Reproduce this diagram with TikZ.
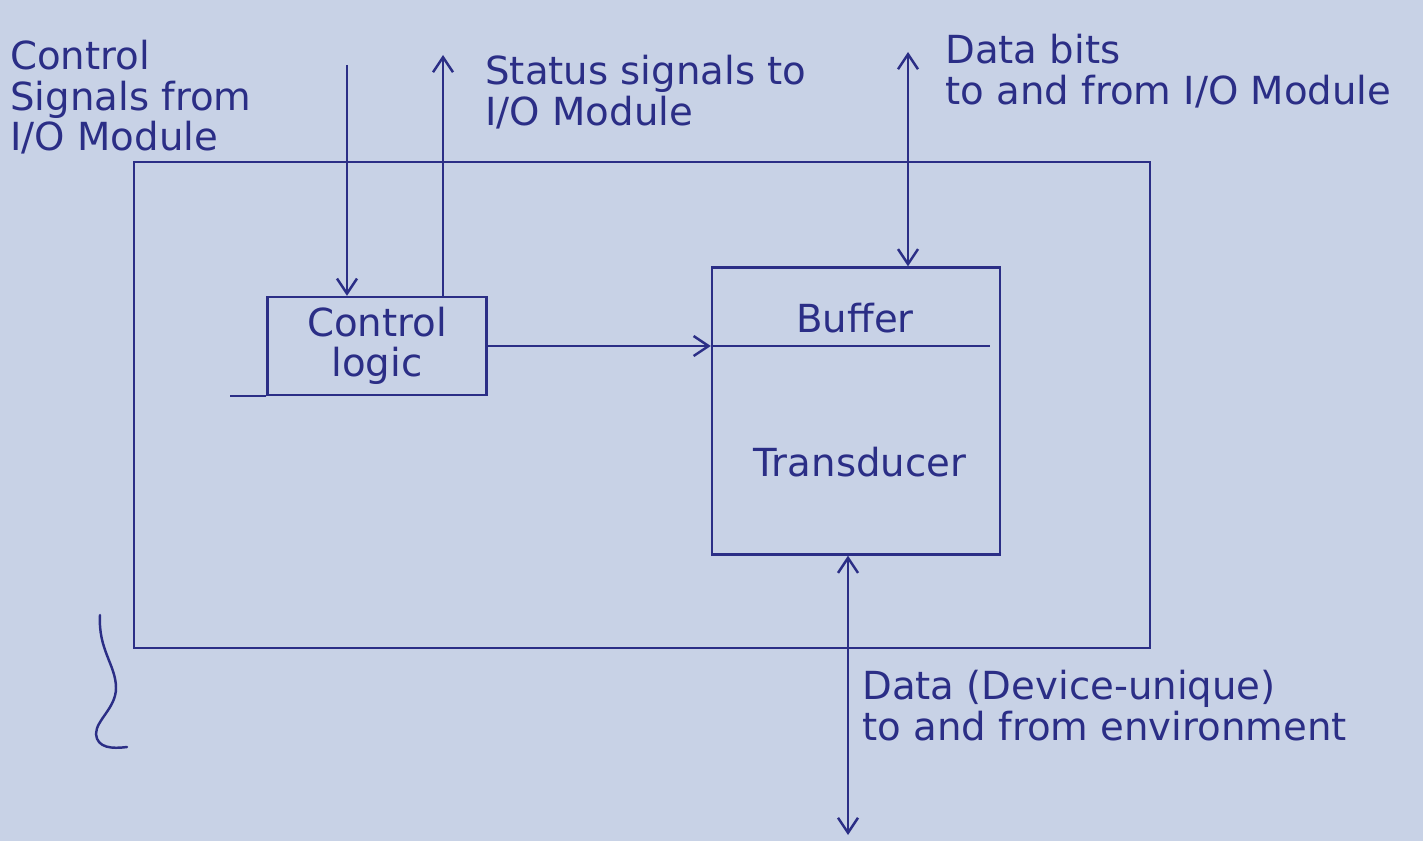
\documentclass[tikz,border=0pt]{standalone}
\usepackage{fontspec}
\setmainfont{DejaVu Sans}
\usepackage{xcolor}
\usepackage{tikz}
\usetikzlibrary{calc,arrows.meta,positioning}
\definecolor{inkx}{HTML}{2B2E86}
\definecolor{paperx}{HTML}{C8D2E6}
\tikzset{
  ar/.style={-{Straight Barb[length=3mm,width=4mm]},line width=1.4pt,inkx},
  dar/.style={{Straight Barb[length=3mm,width=4mm]}-{Straight Barb[length=3mm,width=4mm]},line width=1.4pt,inkx},
  ln/.style={line width=1.4pt,inkx},
  box/.style={draw=inkx,line width=1.4pt,inner sep=0pt},
  lbl/.style={text=inkx,font=\fontsize{22}{23}\selectfont,align=left,inner sep=0pt}
}

\begin{document}
\begin{tikzpicture}[x=0.02cm,y=-0.02cm]
\fill[paperx] (0,0) rectangle (1423,841);
% outer frame
\draw[ln] (134,162) rectangle (1150,648);
% blocks
\node[box,minimum width=4.38cm,minimum height=1.96cm] (ctrl) at (377,346) {};
\node[lbl,align=center] (ctrltxt) at (ctrl.center) {Control\\logic};
\draw[ln] (ctrl.south west) -- ++(-36,0);
\node[box,minimum width=5.76cm,minimum height=5.74cm] (buf) at (856,411) {};
\coordinate (div) at (990,346);
\draw[ln] (buf.west |- div) -- (div);
\node[lbl] (buftxt) at (855,318) {Buffer};
\node[lbl] (trtxt) at (860,462) {Transducer};
% free ends
\coordinate (cin) at (347,65);
\coordinate (sout) at (443,55);
\coordinate (dtop) at (908,52);
\coordinate (dbot) at (848,835);
% connectors
\draw[ar] (cin) -- (ctrl.north -| cin);
\draw[ar] (ctrl.north -| sout) -- (sout);
\draw[ar] (ctrl.east) -- (buf.west |- div);
\draw[dar] (dtop) -- (buf.north -| dtop);
\draw[dar] (buf.south -| dbot) -- (dbot);
% labels
\node[lbl,anchor=north west] (csig) at (10,40) {Control\\Signals from\\I/O Module};
\node[lbl,anchor=north west] (ssig) at (485,55) {Status signals to\\I/O Module};
\node[lbl,anchor=north west] (dbits) at (945,34) {Data bits\\to and from I/O Module};
\node[lbl,anchor=north west] (denv) at (862,670) {Data (Device-unique)\\to and from environment};
% brace
\draw[ln,line cap=round] (100,615) .. controls (98,650) and (116,665) .. (116,688)
  .. controls (116,708) and (96,720) .. (96,734) .. controls (97,748) and (112,749) .. (127,747);
\end{tikzpicture}
\end{document}
